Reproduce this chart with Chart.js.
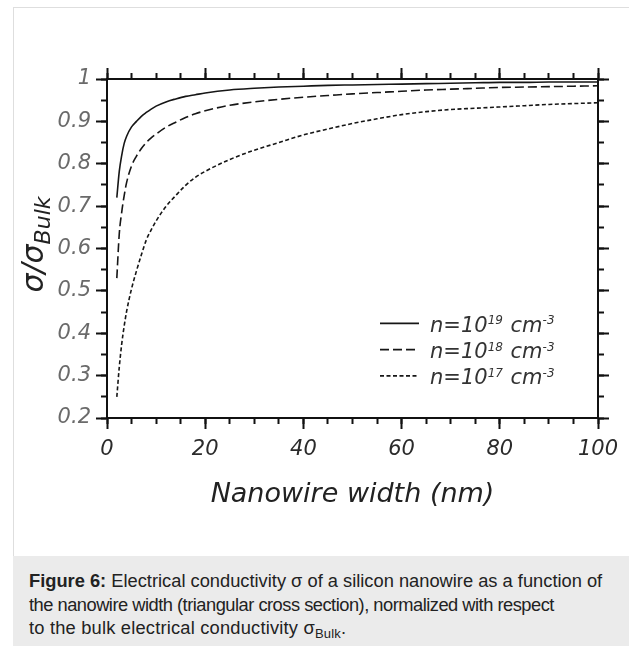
<!DOCTYPE html>
<html><head><meta charset="utf-8">
<script src="https://cdn.jsdelivr.net/npm/chart.js@4.4.1/dist/chart.umd.min.js"></script>
<style>
html,body{margin:0;padding:0;background:#fff;width:629px;height:646px;overflow:hidden;}
#panel{position:absolute;left:13px;top:7px;width:616px;height:549px;border-left:1px solid #dedede;border-top:1px solid #dedede;box-sizing:border-box;}
#wrap{position:absolute;left:0;top:0;width:629px;height:556px;}
#cap{position:absolute;left:13px;top:556px;width:616px;height:90px;background:#ebebeb;box-sizing:border-box;padding:13px 0 0 16px;font-family:"Liberation Sans",Arial,sans-serif;font-size:18.3px;line-height:23.5px;color:#222;white-space:nowrap;}
#cap sub{font-size:13px;vertical-align:-4px;line-height:0;}
#cap .l2{letter-spacing:-0.5px;}
#cap .l3{letter-spacing:0.2px;}
</style></head>
<body>
<div id="panel"></div>
<div id="wrap"><canvas id="c" width="629" height="556"></canvas></div>
<div id="cap"><b>Figure 6:</b> Electrical conductivity σ of a silicon nanowire as a function of<br><span class="l2">the nanowire width (triangular cross section), normalized with respect</span><br><span class="l3">to the bulk electrical conductivity σ<sub>Bulk</sub>.</span></div>
<script>
// ---- data ----
const widthNm = [2, 2.5, 3, 3.5, 4, 5, 6, 7, 8, 9, 10, 12, 14, 16, 18, 20, 25, 30, 35, 40, 45, 50, 55, 60, 65, 70, 75, 80, 85, 90, 95, 100];
const sigma19 = [0.72, 0.782, 0.82, 0.848, 0.865, 0.887, 0.900, 0.912, 0.921, 0.929, 0.936, 0.946, 0.953, 0.959, 0.963, 0.967, 0.974, 0.978, 0.981, 0.983, 0.985, 0.986, 0.987, 0.988, 0.989, 0.990, 0.991, 0.992, 0.992, 0.993, 0.993, 0.993];
const sigma18 = [0.53, 0.635, 0.686, 0.725, 0.756, 0.795, 0.818, 0.836, 0.850, 0.861, 0.870, 0.886, 0.898, 0.909, 0.918, 0.925, 0.938, 0.946, 0.952, 0.957, 0.961, 0.965, 0.968, 0.971, 0.974, 0.976, 0.978, 0.980, 0.981, 0.982, 0.983, 0.984];
const sigma17 = [0.25, 0.32, 0.375, 0.417, 0.452, 0.505, 0.547, 0.585, 0.620, 0.644, 0.665, 0.699, 0.725, 0.749, 0.768, 0.782, 0.810, 0.832, 0.850, 0.868, 0.882, 0.895, 0.906, 0.916, 0.923, 0.928, 0.931, 0.934, 0.937, 0.940, 0.942, 0.944];
const seriesExponents = ['19', '18', '17'];
const seriesLabels = ['n=10^19 cm^-3', 'n=10^18 cm^-3', 'n=10^17 cm^-3'];
const xTickValues = [0, 20, 40, 60, 80, 100];
const xTickLabels = ['0', '20', '40', '60', '80', '100'];
const xMinorValues = [0, 5, 10, 15, 20, 25, 30, 35, 40, 45, 50, 55, 60, 65, 70, 75, 80, 85, 90, 95, 100];
const yTickValues = [0.2, 0.3, 0.4, 0.5, 0.6, 0.7, 0.8, 0.9, 1.0];
const yTickLabels = ['0.2', '0.3', '0.4', '0.5', '0.6', '0.7', '0.8', '0.9', '1'];
const yMinorValues = [0.2, 0.25, 0.3, 0.35, 0.4, 0.45, 0.5, 0.55, 0.6, 0.65, 0.7, 0.75, 0.8, 0.85, 0.9, 0.95, 1.0];
const xTitle = 'Nanowire width (nm)';
const yTitleMain = 'σ/σ';
const yTitleSub = 'Bulk';

// ---- styling ----
const FAM = '"DejaVu Sans", "Liberation Sans", sans-serif';
const lineColor = '#161616';
const dashes = [[], [9, 4], [4, 2.5]];
const seriesValues = [sigma19, sigma18, sigma17];

const datasets = seriesValues.map((vals, k) => ({
  label: seriesLabels[k],
  data: widthNm.map((x, i) => ({ x: x, y: vals[i] })),
  borderColor: lineColor,
  borderWidth: 1.6,
  borderDash: dashes[k],
  pointRadius: 0,
  fill: false,
  cubicInterpolationMode: 'monotone',
  xAxisID: 'x',
  yAxisID: 'y'
}));

function setTicks(values) { return s => { s.ticks = values.map(v => ({ value: v })); }; }
const tickFont = { family: FAM, size: 21, style: 'italic' };
const majorGrid = { drawOnChartArea: false, drawTicks: true, tickLength: 11, tickWidth: 2, tickColor: '#111' };
const minorGrid = { drawOnChartArea: false, drawTicks: true, tickLength: 6, tickWidth: 2, tickColor: '#111' };
const axisBorder = { display: true, color: '#111', width: 2 };

const decor = {
  id: 'decor',
  afterDraw(chart) {
    const ctx = chart.ctx, ca = chart.chartArea;
    // y axis title with subscript
    ctx.save();
    ctx.translate(ca.left - 64, (ca.top + ca.bottom) / 2 - 4);
    ctx.rotate(-Math.PI / 2);
    ctx.fillStyle = '#222';
    ctx.textBaseline = 'alphabetic';
    ctx.font = 'italic 30px ' + FAM;
    const w1 = ctx.measureText(yTitleMain).width;
    ctx.font = 'italic 22px ' + FAM;
    const w2 = ctx.measureText(yTitleSub).width;
    const start = -(w1 + w2) / 2;
    ctx.font = 'italic 30px ' + FAM;
    ctx.fillText(yTitleMain, start, 0);
    ctx.font = 'italic 22px ' + FAM;
    ctx.fillText(yTitleSub, start + w1, 7);
    ctx.restore();
    // legend
    ctx.save();
    const lx0 = ca.right - 218, lx1 = ca.right - 179, tx = ca.right - 168;
    chart.data.datasets.forEach((ds, i) => {
      const b = ca.bottom - 86.3 + i * 26.3;
      const ly = b - 8.4;
      ctx.setLineDash(ds.borderDash || []);
      ctx.strokeStyle = ds.borderColor;
      ctx.lineWidth = 1.8;
      ctx.beginPath(); ctx.moveTo(lx0, ly); ctx.lineTo(lx1, ly); ctx.stroke();
      ctx.setLineDash([]);
      ctx.fillStyle = '#333';
      ctx.textBaseline = 'alphabetic';
      let x = tx;
      const parts = [['n=10', 0], [seriesExponents[i], 1], [' cm', 0], ['-3', 1]];
      parts.forEach(([t, sup]) => {
        ctx.font = 'italic ' + (sup ? 12 : 21) + 'px ' + FAM;
        ctx.fillText(t, x, sup ? b - 7.5 : b);
        x += ctx.measureText(t).width + (sup ? 1 : 0);
      });
    });
    ctx.restore();
  }
};

new Chart(document.getElementById('c'), {
  type: 'line',
  data: { datasets: datasets },
  options: {
    responsive: false,
    animation: false,
    devicePixelRatio: 1,
    layout: { padding: 0 },
    plugins: { legend: { display: false }, tooltip: { enabled: false } },
    scales: {
      x: {
        type: 'linear', position: 'bottom', min: 0, max: 100, weight: 1,
        afterBuildTicks: setTicks(xTickValues),
        ticks: { callback: (v, i) => xTickLabels[i], font: tickFont, color: '#2b2b2b', padding: 8, maxRotation: 0, autoSkip: false },
        grid: majorGrid, border: axisBorder,
        title: { display: true, text: xTitle, font: { family: FAM, size: 27, style: 'italic' }, color: '#222', padding: { top: 0, bottom: 45 } },
        afterFit: s => { s.height = 138; }
      },
      xMinor: {
        type: 'linear', position: 'bottom', min: 0, max: 100, weight: 0,
        afterBuildTicks: setTicks(xMinorValues),
        ticks: { display: false }, grid: minorGrid, border: { display: false },
        afterFit: s => { s.height = 0; }
      },
      x2: {
        type: 'linear', position: 'top', min: 0, max: 100, weight: 1,
        afterBuildTicks: setTicks(xTickValues),
        ticks: { display: false }, grid: majorGrid, border: axisBorder,
        afterFit: s => { s.height = 79; }
      },
      x2Minor: {
        type: 'linear', position: 'top', min: 0, max: 100, weight: 0,
        afterBuildTicks: setTicks(xMinorValues),
        ticks: { display: false }, grid: minorGrid, border: { display: false },
        afterFit: s => { s.height = 0; }
      },
      y: {
        type: 'linear', position: 'left', min: 0.2, max: 1, weight: 1,
        afterBuildTicks: setTicks(yTickValues),
        ticks: { callback: (v, i) => yTickLabels[i], font: tickFont, color: '#6a6a6a', padding: 5, autoSkip: false },
        grid: majorGrid, border: axisBorder,
        afterFit: s => { s.width = 107; }
      },
      yMinor: {
        type: 'linear', position: 'left', min: 0.2, max: 1, weight: 0,
        afterBuildTicks: setTicks(yMinorValues),
        ticks: { display: false }, grid: minorGrid, border: { display: false },
        afterFit: s => { s.width = 0; }
      },
      y2: {
        type: 'linear', position: 'right', min: 0.2, max: 1, weight: 1,
        afterBuildTicks: setTicks(yTickValues),
        ticks: { display: false }, grid: majorGrid, border: axisBorder,
        afterFit: s => { s.width = 31; }
      },
      y2Minor: {
        type: 'linear', position: 'right', min: 0.2, max: 1, weight: 0,
        afterBuildTicks: setTicks(yMinorValues),
        ticks: { display: false }, grid: minorGrid, border: { display: false },
        afterFit: s => { s.width = 0; }
      }
    }
  },
  plugins: [decor]
});
</script>
</body></html>
